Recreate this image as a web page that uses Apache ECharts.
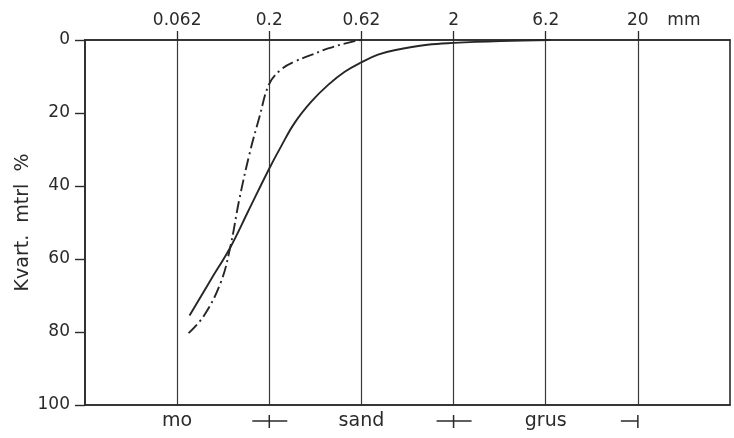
<!DOCTYPE html>
<html>
<head>
<meta charset="utf-8">
<script src="https://cdn.jsdelivr.net/npm/echarts@6/dist/echarts.min.js"></script>
<style>
  html, body { margin: 0; padding: 0; background: #ffffff; }
  #chart { width: 734px; height: 438px; }
</style>
</head>
<body>
<div id="chart"></div>
<script>
// Grain-size boundaries (mm) used as the grid of the log-like size axis
const sizeMarks = [0.02, 0.062, 0.2, 0.62, 2, 6.2, 20, 62];
const sizeLabels = ['0.062', '0.2', '0.62', '2', '6.2', '20'];
const unitLabel = 'mm';

// Fraction names along the bottom, centred in each class
const classCentres = [0.062, 0.62, 6.2];
const classNames = ['mo', 'sand', 'grus'];
// Class boundaries marked under the axis
const classBounds = [0.2, 2, 20];
const classBoundKinds = ['cross', 'cross', 'end'];

// Cumulative curves: grain size (mm) and finer-than percentage
const solidMm  = [0.0726, 0.0948, 0.1216, 0.152, 0.2, 0.232, 0.273, 0.335, 0.412, 0.505, 0.62, 0.765, 0.943, 1.436, 2, 3.56, 6.6];
const solidPct = [75.5, 65.8, 56.9, 47.2, 35.2, 29.0, 22.7, 16.9, 12.3, 8.7, 6.1, 4.0, 2.8, 1.3, 0.8, 0.3, 0];

const dashMm  = [0.0717, 0.087, 0.1078, 0.1216, 0.1365, 0.155, 0.1765, 0.2, 0.232, 0.273, 0.335, 0.412, 0.571, 0.62];
const dashPct = [80.3, 75.6, 66.5, 56.9, 43.8, 31.5, 21.1, 12.0, 8.0, 5.9, 4.1, 2.3, 0.3, 0];

const pctTicks = [0, 20, 40, 60, 80, 100];

// Map a grain size onto the evenly spaced size grid (log between marks)
function sizePos(mm) {
  for (let i = 0; i < sizeMarks.length - 1; i++) {
    const a = sizeMarks[i], b = sizeMarks[i + 1];
    if (mm <= b || i === sizeMarks.length - 2) {
      return i + Math.log(mm / a) / Math.log(b / a);
    }
  }
}

function nearestIndex(list, v) {
  let best = -1, d = Infinity;
  list.forEach((p, i) => { const e = Math.abs(p - v); if (e < d) { d = e; best = i; } });
  return d < 1e-3 ? best : -1;
}

const ink = '#2a2a2a';
const font = 'DejaVu Sans';

const topLabelPos = sizeLabels.map(s => sizePos(parseFloat(s)));
const unitPos = (topLabelPos[topLabelPos.length - 1] + sizeMarks.length - 1) / 2;
const topTexts = sizeLabels.concat([unitLabel]);
const topTextPos = topLabelPos.concat([unitPos]);
const classPos = classCentres.map(sizePos);

const chart = echarts.init(document.getElementById('chart'), null, { renderer: 'canvas' });

chart.setOption({
  backgroundColor: '#ffffff',
  animation: false,
  grid: {
    left: 85, right: 4, top: 40, bottom: 33,
    show: true, borderColor: ink, borderWidth: 1.6, backgroundColor: 'transparent'
  },
  xAxis: [
    {
      type: 'value', position: 'top', min: 0, max: sizeMarks.length - 1, interval: 1,
      axisLine: { show: true, lineStyle: { color: ink, width: 1.6 } },
      axisTick: { show: true, inside: false, length: 9, customValues: topLabelPos, lineStyle: { color: ink, width: 1.3 } },
      splitLine: { show: true, lineStyle: { color: '#3a3a3a', width: 1.2 } },
      axisLabel: {
        show: true, margin: 11, fontFamily: font, fontSize: 17, color: ink,
        customValues: topTextPos,
        formatter: v => { const i = nearestIndex(topTextPos, v); return i < 0 ? '' : topTexts[i]; }
      }
    },
    {
      type: 'value', position: 'bottom', min: 0, max: sizeMarks.length - 1, interval: 1,
      axisLine: { show: true, lineStyle: { color: ink, width: 1.6 } },
      axisTick: { show: false },
      splitLine: { show: false },
      axisLabel: {
        show: true, margin: 7, fontFamily: font, fontSize: 19, color: ink,
        customValues: classPos,
        formatter: v => { const i = nearestIndex(classPos, v); return i < 0 ? '' : classNames[i]; }
      }
    }
  ],
  yAxis: {
    type: 'value', inverse: true, min: 0, max: 100, interval: 20,
    name: 'Kvart.  mtrl  %', nameLocation: 'middle', nameRotate: 90, nameGap: 52,
    nameMoveOverlap: false,
    nameTextStyle: { fontFamily: font, fontSize: 19, color: ink },
    axisLine: { show: true, lineStyle: { color: ink, width: 1.6 } },
    axisTick: { show: true, inside: false, length: 10, lineStyle: { color: ink, width: 1.4 } },
    splitLine: { show: false },
    axisLabel: {
      margin: 15, fontFamily: font, fontSize: 17, color: ink,
      customValues: pctTicks
    }
  },
  series: [
    {
      name: 'solid', type: 'line', xAxisIndex: 0,
      data: solidMm.map((m, i) => [sizePos(m), solidPct[i]]),
      smooth: 0.4, showSymbol: false,
      lineStyle: { color: '#262626', width: 1.9 }
    },
    {
      name: 'dashdot', type: 'line', xAxisIndex: 0,
      data: dashMm.map((m, i) => [sizePos(m), dashPct[i]]),
      smooth: 0.4, showSymbol: false,
      lineStyle: { color: '#262626', width: 1.9, type: [12, 4, 2, 4] }
    },
    {
      name: 'bounds', type: 'custom', xAxisIndex: 1, clip: false, silent: true,
      data: classBounds.map((m, i) => [sizePos(m), 100, i]),
      renderItem: function (params, api) {
        const p = api.coord([api.value(0), api.value(1)]);
        const kind = classBoundKinds[api.value(2)];
        const y = p[1] + 16;
        const x = p[0];
        const st = { stroke: ink, lineWidth: 1.5 };
        return {
          type: 'group',
          children: [
            { type: 'line', shape: { x1: x - 17, y1: y, x2: kind === 'end' ? x : x + 18, y2: y }, style: st },
            { type: 'line', shape: { x1: x, y1: y - 6, x2: x, y2: y + 7 }, style: st }
          ]
        };
      }
    }
  ]
});
</script>
</body>
</html>
